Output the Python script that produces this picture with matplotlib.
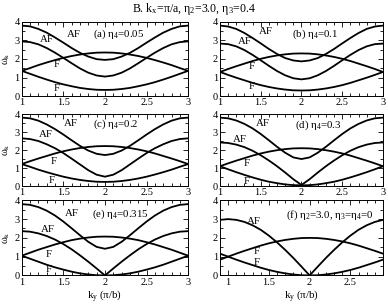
import matplotlib
matplotlib.use("Agg")
import matplotlib.pyplot as plt
from matplotlib.ticker import MultipleLocator, FormatStrFormatter

plt.rcParams['font.family'] = ['Liberation Serif', 'DejaVu Serif']
plt.rcParams['mathtext.fontset'] = 'custom'
plt.rcParams['mathtext.rm'] = 'Liberation Serif'
plt.rcParams['mathtext.it'] = 'Liberation Serif:italic'

# ky grid for panels (a)-(e) and for panel (f)
ky = [1.0, 1.1, 1.2, 1.3, 1.4, 1.5, 1.6, 1.7, 1.8, 1.9, 2.0,
      2.1, 2.2, 2.3, 2.4, 2.5, 2.6, 2.7, 2.8, 2.9, 3.0]
ky_f = [0.9, 1.0, 1.1, 1.2, 1.3, 1.4, 1.5, 1.6, 1.7, 1.8, 1.9, 2.0,
        2.1, 2.2, 2.3, 2.4, 2.5, 2.6, 2.7, 2.8, 2.9]

# (a) eta4 = 0.05
a_af1 = [3.80, 3.76, 3.62, 3.42, 3.16, 2.88, 2.59, 2.33, 2.13, 1.99, 1.95,
         1.99, 2.13, 2.33, 2.59, 2.88, 3.16, 3.42, 3.62, 3.76, 3.80]
a_af2 = [2.95, 2.91, 2.79, 2.59, 2.34, 2.06, 1.77, 1.49, 1.26, 1.11, 1.05,
         1.11, 1.26, 1.49, 1.77, 2.06, 2.34, 2.59, 2.79, 2.91, 2.95]
a_f1 = [1.36, 1.51, 1.67, 1.81, 1.94, 2.06, 2.16, 2.24, 2.30, 2.34, 2.35,
        2.34, 2.30, 2.24, 2.16, 2.06, 1.94, 1.81, 1.67, 1.51, 1.36]
a_f2 = [1.36, 1.20, 1.04, 0.89, 0.75, 0.63, 0.53, 0.44, 0.38, 0.34, 0.33,
        0.34, 0.38, 0.44, 0.53, 0.63, 0.75, 0.89, 1.04, 1.20, 1.36]

# (b) eta4 = 0.1
b_af1 = [3.80, 3.75, 3.62, 3.40, 3.13, 2.84, 2.54, 2.27, 2.05, 1.92, 1.87,
         1.92, 2.05, 2.27, 2.54, 2.84, 3.13, 3.40, 3.62, 3.75, 3.80]
b_af2 = [2.83, 2.80, 2.68, 2.48, 2.22, 1.93, 1.63, 1.35, 1.12, 0.96, 0.90,
         0.96, 1.12, 1.35, 1.63, 1.93, 2.22, 2.48, 2.68, 2.80, 2.83]
b_f1 = [1.30, 1.46, 1.61, 1.75, 1.89, 2.01, 2.11, 2.19, 2.25, 2.29, 2.30,
        2.29, 2.25, 2.19, 2.11, 2.01, 1.89, 1.75, 1.61, 1.46, 1.30]
b_f2 = [1.30, 1.14, 0.99, 0.85, 0.71, 0.59, 0.49, 0.41, 0.35, 0.31, 0.30,
        0.31, 0.35, 0.41, 0.49, 0.59, 0.71, 0.85, 0.99, 1.14, 1.30]

# (c) eta4 = 0.2
c_af1 = [3.80, 3.76, 3.63, 3.42, 3.16, 2.86, 2.54, 2.23, 1.97, 1.79, 1.72,
         1.79, 1.97, 2.23, 2.54, 2.86, 3.16, 3.42, 3.63, 3.76, 3.80]
c_af2 = [2.65, 2.61, 2.50, 2.32, 2.10, 1.83, 1.52, 1.20, 0.88, 0.63, 0.52,
         0.63, 0.88, 1.20, 1.52, 1.83, 2.10, 2.32, 2.50, 2.61, 2.65]
c_f1 = [1.22, 1.38, 1.53, 1.67, 1.81, 1.93, 2.03, 2.11, 2.17, 2.21, 2.22,
        2.21, 2.17, 2.11, 2.03, 1.93, 1.81, 1.67, 1.53, 1.38, 1.22]
c_f2 = [1.22, 1.07, 0.91, 0.77, 0.64, 0.52, 0.42, 0.34, 0.28, 0.24, 0.23,
        0.24, 0.28, 0.34, 0.42, 0.52, 0.64, 0.77, 0.91, 1.07, 1.22]

# (d) eta4 = 0.3
d_af1 = [3.80, 3.76, 3.64, 3.45, 3.20, 2.89, 2.54, 2.18, 1.85, 1.59, 1.50,
         1.59, 1.85, 2.18, 2.54, 2.89, 3.20, 3.45, 3.64, 3.76, 3.80]
d_af2 = [2.42, 2.39, 2.30, 2.16, 1.96, 1.71, 1.42, 1.10, 0.75, 0.38, 0.06,
         0.38, 0.75, 1.10, 1.42, 1.71, 1.96, 2.16, 2.30, 2.39, 2.42]
d_f1 = [1.10, 1.26, 1.41, 1.55, 1.69, 1.81, 1.91, 1.99, 2.05, 2.09, 2.10,
        2.09, 2.05, 1.99, 1.91, 1.81, 1.69, 1.55, 1.41, 1.26, 1.10]
d_f2 = [1.10, 0.93, 0.77, 0.62, 0.48, 0.35, 0.24, 0.16, 0.09, 0.05, 0.04,
        0.05, 0.09, 0.16, 0.24, 0.35, 0.48, 0.62, 0.77, 0.93, 1.10]

# (e) eta4 = 0.315
e_af1 = [3.80, 3.76, 3.64, 3.45, 3.19, 2.87, 2.51, 2.14, 1.79, 1.52, 1.42,
         1.52, 1.79, 2.14, 2.51, 2.87, 3.19, 3.45, 3.64, 3.76, 3.80]
e_af2 = [2.36, 2.33, 2.24, 2.10, 1.91, 1.67, 1.39, 1.07, 0.73, 0.37, 0.00,
         0.37, 0.73, 1.07, 1.39, 1.67, 1.91, 2.10, 2.24, 2.33, 2.36]
e_f1 = [1.05, 1.21, 1.37, 1.51, 1.65, 1.77, 1.88, 1.96, 2.02, 2.06, 2.07,
        2.06, 2.02, 1.96, 1.88, 1.77, 1.65, 1.51, 1.37, 1.21, 1.05]
e_f2 = [1.05, 0.89, 0.73, 0.57, 0.43, 0.31, 0.20, 0.11, 0.05, 0.01, 0.00,
        0.01, 0.05, 0.11, 0.20, 0.31, 0.43, 0.57, 0.73, 0.89, 1.05]

# (f) eta2 = 3.0, eta3 = eta4 = 0
f_af = [2.96, 3.00, 2.96, 2.85, 2.67, 2.43, 2.12, 1.76, 1.36, 0.93, 0.47, 0.00,
        0.47, 0.93, 1.36, 1.76, 2.12, 2.43, 2.67, 2.85, 2.96]
f_f1 = [0.84, 1.00, 1.16, 1.31, 1.45, 1.59, 1.71, 1.81, 1.89, 1.95, 1.99, 2.00,
        1.99, 1.95, 1.89, 1.81, 1.71, 1.59, 1.45, 1.31, 1.16]
f_f2 = [1.16, 1.00, 0.84, 0.69, 0.55, 0.41, 0.29, 0.19, 0.11, 0.05, 0.01, 0.00,
        0.01, 0.05, 0.11, 0.19, 0.29, 0.41, 0.55, 0.69, 0.84]

# panel: (position, x, curves, xlim, label, label pos, AF/F text positions)
panels = [
    ([0.056, 0.684, 0.429, 0.244], ky, [a_af1, a_af2, a_f1, a_f2], (1, 3),
     '(a) η$_4$=0.05', (1.86, 3.35),
     [('AF', 1.63, 3.3), ('AF', 1.3, 3.03), ('F', 1.42, 1.68), ('F', 1.42, 0.42)]),
    ([0.567, 0.684, 0.420, 0.244], ky, [b_af1, b_af2, b_f1, b_f2], (1, 3),
     '(b) η$_4$=0.1', (1.88, 3.35),
     [('AF', 1.56, 3.48), ('AF', 1.31, 2.94), ('F', 1.39, 1.58), ('F', 1.39, 0.49)]),
    ([0.056, 0.388, 0.429, 0.237], ky, [c_af1, c_af2, c_f1, c_f2], (1, 3),
     '(c) η$_4$=0.2', (1.86, 3.44),
     [('AF', 1.59, 3.48), ('AF', 1.29, 2.88), ('F', 1.38, 1.35), ('F', 1.36, 0.33)]),
    ([0.567, 0.388, 0.420, 0.237], ky, [d_af1, d_af2, d_f1, d_f2], (1, 3),
     '(d) η$_4$=0.3', (1.92, 3.35),
     [('AF', 1.53, 3.48), ('AF', 1.25, 2.56), ('F', 1.33, 1.25), ('F', 1.33, 0.27)]),
    ([0.056, 0.094, 0.429, 0.247], ky, [e_af1, e_af2, e_f1, e_f2], (1, 3),
     '(e) η$_4$=0.315', (1.85, 3.26),
     [('AF', 1.6, 3.3), ('AF', 1.31, 2.46), ('F', 1.32, 1.1), ('F', 1.32, 0.3)]),
    ([0.567, 0.094, 0.420, 0.247], ky_f, [f_af, f_f1, f_f2], (0.9, 2.9),
     '(f) η$_2$=3.0, η$_3$=η$_4$=0', (1.71, 3.2),
     [('AF', 1.32, 2.86), ('F', 1.35, 1.28), ('F', 1.35, 0.67)]),
]

fig = plt.figure(figsize=(3.88, 3.04), dpi=100)

for i, (pos, x, curves, xlim, label, lpos, names) in enumerate(panels):
    ax = fig.add_axes(pos)
    for y in curves:
        ax.plot(x, y, color='black', linewidth=1.3)
    ax.set_xlim(*xlim)
    ax.set_ylim(0, 4)
    ax.xaxis.set_major_locator(MultipleLocator(0.5))
    ax.xaxis.set_minor_locator(MultipleLocator(0.1))
    ax.xaxis.set_major_formatter(FormatStrFormatter('%g'))
    ax.yaxis.set_major_locator(MultipleLocator(1))
    ax.yaxis.set_minor_locator(MultipleLocator(0.5))
    ax.tick_params(which='both', direction='in', top=True, right=True,
                   labelsize=7.5, pad=1.5, width=0.6)
    ax.tick_params(which='major', length=3.5)
    ax.tick_params(which='minor', length=2)
    for sp in ax.spines.values():
        sp.set_linewidth(0.7)
    ax.text(lpos[0], lpos[1], label, fontsize=7.8, ha='left', va='center')
    for name, tx, ty in names:
        ax.text(tx, ty, name, fontsize=7.8, ha='center', va='center')
    if i % 2 == 0:
        ax.set_ylabel('ω$_{\\rm k}$', fontsize=7.5, labelpad=2)
    if i >= 4:
        ax.set_xlabel('k$_{\\rm y}$ (π/b)', fontsize=7.8, labelpad=1)

fig.text(0.5, 0.972, 'B. k$_{\\rm x}$=π/a, η$_2$=3.0, η$_3$=0.4',
         ha='center', va='center', fontsize=8.6)

fig.savefig('out.png', dpi=100)
